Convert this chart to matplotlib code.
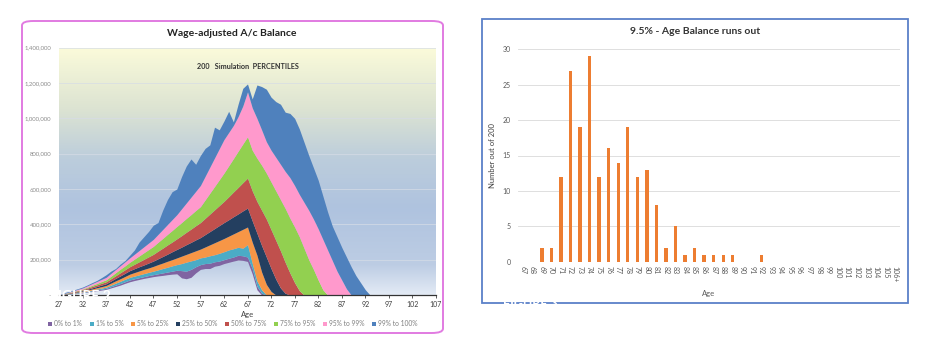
import numpy as np
import matplotlib
matplotlib.use("Agg")
import matplotlib.pyplot as plt
from matplotlib.patches import FancyBboxPatch, Rectangle, Patch
from matplotlib.colors import LinearSegmentedColormap

plt.rcParams['font.family'] = ['Lato', 'DejaVu Sans']

# ---- left chart data: percentile boundaries (thousands), ages 27..93 ----
ages = list(range(27, 94))

p_min = [0, 2, 4, 6, 9, 12, 16, 20, 24, 28, 32, 40, 48, 56, 66, 75,
         82, 88, 94, 99, 104, 108, 111, 115, 118, 120, 97, 92, 100, 125, 145,
         150, 150, 163, 168, 178, 185, 192, 198, 196, 190, 120, 30, 0, 0, 0,
         0, 0, 0, 0, 0, 0, 0, 0, 0, 0, 0, 0, 0, 0, 0, 0, 0, 0, 0, 0, 0]
p1 = [0, 3, 5, 8, 11, 15, 19, 24, 28, 33, 38, 47, 56, 65, 75, 85,
      92, 98, 104, 110, 115, 120, 125, 130, 135, 140, 138, 135, 145, 160, 172,
      178, 180, 188, 192, 200, 208, 215, 225, 222, 215, 150, 50, 10, 0, 0,
      0, 0, 0, 0, 0, 0, 0, 0, 0, 0, 0, 0, 0, 0, 0, 0, 0, 0, 0, 0, 0]
p5 = [0, 3, 7, 10, 14, 18, 23, 28, 34, 39, 45, 56, 67, 78, 89, 100,
      107, 114, 121, 128, 135, 142, 150, 157, 165, 172, 178, 186, 193, 200, 210,
      215, 222, 228, 236, 245, 255, 262, 270, 265, 285, 180, 80, 30, 0, 0,
      0, 0, 0, 0, 0, 0, 0, 0, 0, 0, 0, 0, 0, 0, 0, 0, 0, 0, 0, 0, 0]
p25 = [0, 4, 8, 13, 17, 22, 28, 34, 41, 47, 54, 67, 80, 92, 105, 118,
       127, 136, 145, 153, 162, 172, 181, 191, 200, 210, 220, 230, 240, 250, 260,
       272, 284, 296, 308, 320, 333, 346, 359, 372, 385, 300, 226, 130, 60, 20,
       0, 0, 0, 0, 0, 0, 0, 0, 0, 0, 0, 0, 0, 0, 0, 0, 0, 0, 0, 0, 0]
p50 = [0, 5, 10, 15, 20, 26, 33, 40, 48, 56, 64, 79, 94, 108, 123, 138,
       149, 160, 170, 181, 192, 205, 218, 231, 245, 258, 271, 285, 298, 312, 325,
       342, 359, 376, 393, 410, 426, 443, 459, 476, 492, 420, 350, 280, 215, 150,
       90, 40, 10, 0, 0, 0, 0, 0, 0, 0, 0, 0, 0, 0, 0, 0, 0, 0, 0, 0, 0]
p75 = [0, 6, 12, 18, 24, 30, 39, 48, 57, 66, 75, 92, 109, 126, 143, 160,
       174, 188, 202, 216, 230, 248, 265, 283, 300, 318, 336, 355, 373, 392, 410,
       434, 458, 482, 506, 530, 556, 583, 609, 636, 662, 590, 530, 480, 430, 370,
       310, 250, 185, 125, 70, 25, 0, 0, 0, 0, 0, 0, 0, 0, 0, 0, 0, 0, 0, 0, 0]
p95 = [0, 7, 14, 20, 27, 34, 44, 55, 65, 76, 86, 106, 126, 146, 165, 185,
       203, 221, 239, 257, 275, 298, 320, 343, 365, 388, 410, 433, 455, 478, 500,
       538, 576, 614, 652, 690, 731, 772, 814, 855, 896, 820, 775, 735, 690, 640,
       590, 540, 490, 435, 385, 330, 265, 200, 145, 85, 30, 0, 0, 0, 0, 0, 0, 0, 0, 0, 0]
p99 = [0, 8, 16, 24, 32, 40, 52, 64, 76, 88, 100, 122, 144, 166, 188, 210,
       231, 252, 273, 294, 315, 343, 371, 399, 427, 455, 488, 521, 554, 587, 620,
       672, 724, 776, 828, 880, 920, 960, 1010, 1070, 1150, 1060, 1000, 935, 868, 820,
       780, 740, 700, 665, 620, 570, 525, 480, 430, 375, 315, 255, 195, 135, 85, 35, 0, 0, 0, 0, 0]
p_max = [0, 12, 20, 28, 36, 45, 57, 70, 82, 98, 115, 135, 150, 175, 195, 225,
         255, 300, 330, 360, 395, 410, 480, 540, 585, 600, 670, 730, 770, 740, 790,
         830, 850, 950, 935, 985, 1040, 980, 1080, 1170, 1195, 1110, 1189, 1180, 1165, 1120,
         1095, 1080, 1035, 1028, 1000, 940, 865, 790, 720, 650, 560, 470, 390, 330, 270,
         215, 160, 110, 70, 30, 0]

bands = [p_min, p1, p5, p25, p50, p75, p95, p99, p_max]
band_names = ["0% to 1%", "1% to 5%", "5% to 25%", "25% to 50%",
              "50% to 75%", "75% to 95%", "95% to 99%", "99% to 100%"]
band_colors = ["#8064A2", "#4BACC6", "#F79646", "#243F60",
               "#C0504D", "#92D050", "#FF99CC", "#4F81BD"]

xticks_left = list(range(27, 108, 5))
yticks_left = [0, 200000, 400000, 600000, 800000, 1000000, 1200000, 1400000]
ylabels_left = ["-", "200,000", "400,000", "600,000", "800,000",
                "1,000,000", "1,200,000", "1,400,000"]

# ---- right chart data ----
run_out_ages = [str(a) for a in range(67, 106)] + ["106+"]
run_out_counts = [0, 0, 2, 2, 12, 27, 19, 29, 12, 16, 14, 19, 12, 13, 8, 2, 5,
                  1, 2, 1, 1, 1, 1, 0, 0, 1, 0, 0, 0, 0, 0, 0, 0, 0, 0, 0, 0,
                  0, 0, 0]

fig = plt.figure(figsize=(9.43, 3.63), dpi=100)
W, H = 943.0, 363.0


def fbox(x0, y0, x1, y1):
    # pixel box (top-left origin) -> figure fraction rect
    return [x0 / W, 1 - y1 / H, (x1 - x0) / W, (y1 - y0) / H]


# outer frames
fig.patches.append(FancyBboxPatch((22 / W, 1 - 333 / H), (443 - 22) / W, (333 - 21) / H,
                                  boxstyle="round,pad=0,rounding_size=0.012",
                                  transform=fig.transFigure, fill=False,
                                  edgecolor="#E17BE1", lw=1.4, zorder=0))
fig.patches.append(Rectangle((482 / W, 1 - 303 / H), (908 - 482) / W, (303 - 19) / H,
                             transform=fig.transFigure, fill=False,
                             edgecolor="#5B80C8", lw=1.3, zorder=0))

# ---------------- left chart ----------------
ax = fig.add_axes(fbox(59, 47.7, 436, 295))
grad = LinearSegmentedColormap.from_list("bg", [
    (0.0, "#E3EAF5"), (0.12, "#BDCDE4"), (0.35, "#AFC3DF"),
    (0.55, "#BCCDDC"), (0.75, "#DCE3D2"), (1.0, "#FBFBDA")])
ax.imshow(np.linspace(0, 1, 256).reshape(-1, 1), aspect="auto", cmap=grad,
          origin="lower", extent=[27, 107, 0, 1400000], zorder=0)

vals = [np.array(b) * 1000 for b in bands]
for i in range(8):
    ax.fill_between(ages, vals[i], np.maximum(vals[i], vals[i + 1]),
                    color=band_colors[i], lw=0, zorder=2)

for y in yticks_left[1:]:
    ax.axhline(y, color="#D6DCE6", lw=0.5, zorder=1)

ax.set_xlim(27, 107)
ax.set_ylim(0, 1400000)
ax.set_xticks(xticks_left)
ax.set_xticklabels([str(t) for t in xticks_left], fontsize=5, color="#404040")
ax.set_yticks(yticks_left)
ax.set_yticklabels(ylabels_left, fontsize=4.3, color="#8C8C8C")
ax.tick_params(axis="y", length=0, pad=5.5)
ax.tick_params(axis="x", length=2.5, width=0.6, pad=2, color="#404040")
for s in ["top", "right", "left"]:
    ax.spines[s].set_visible(False)
ax.spines["bottom"].set_color("#333333")
ax.spines["bottom"].set_linewidth(0.9)
ax.set_xlabel("Age", fontsize=5.5, color="#404040", labelpad=2)
ax.text(0.5, 0.925, "200   Simulation  PERCENTILES", transform=ax.transAxes,
        ha="center", va="center", fontsize=5.2, fontweight="bold", color="#333333")
fig.text(232 / W, 1 - 33 / H, "Wage-adjusted A/c Balance", ha="center", va="center",
         fontsize=7.5, fontweight="bold", color="#222222")

handles = [Patch(facecolor=c, edgecolor="none") for c in band_colors]
fig.legend(handles, band_names, loc="center", bbox_to_anchor=(233 / W, 1 - 324 / H),
           ncol=8, fontsize=4.8, frameon=False, handlelength=0.6, handleheight=0.6,
           handletextpad=0.3, columnspacing=1.15, labelcolor="#7F7F7F")

# white overlay artefact text
fig.text(50 / W, 1 - 296 / H, "FIGURE 2", color="white", fontsize=10,
         fontweight="bold", va="center", ha="left", zorder=10)

# ---------------- right chart ----------------
ax2 = fig.add_axes(fbox(518, 49.3, 899.8, 261.7))
ax2.bar(run_out_ages, run_out_counts, width=0.35, color="#ED7D31", zorder=3)
ax2.set_xlim(-0.5, len(run_out_ages) - 0.5)
ax2.set_ylim(0, 30)
ax2.set_yticks([0, 5, 10, 15, 20, 25, 30])
ax2.yaxis.grid(True, color="#D9D9D9", lw=0.6, zorder=0)
ax2.set_axisbelow(True)
for s in ["top", "right", "left", "bottom"]:
    ax2.spines[s].set_visible(False)
ax2.tick_params(axis="both", length=0, labelsize=5, labelcolor="#595959")
ax2.tick_params(axis="y", pad=5)
ax2.tick_params(axis="x", pad=3)
for lab in ax2.get_xticklabels():
    lab.set_rotation(270)
ax2.set_xlabel("Age", fontsize=5.5, color="#595959", labelpad=6)
ax2.set_ylabel("Number out of 200", fontsize=5.5, color="#404040", labelpad=5)
fig.text(695 / W, 1 - 32 / H, "9.5% - Age Balance runs out", ha="center", va="center",
         fontsize=7.5, fontweight="bold", color="#333333")
fig.text(503 / W, 1 - 304 / H, "FIGURE 3", color="white", fontsize=9,
         fontweight="bold", va="center", ha="left", zorder=10)

fig.savefig("out.png", dpi=100, facecolor="white")
